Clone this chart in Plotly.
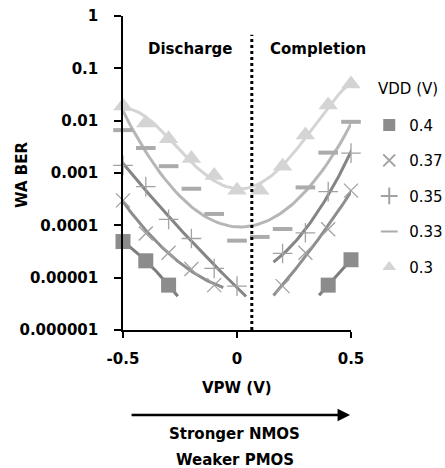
import numpy as np
import plotly.graph_objects as go

# Write-assist bit error rate vs. P-well bias, one series per supply voltage
vpw = [-0.5, -0.4, -0.3, -0.2, -0.1, 0.0, 0.1, 0.2, 0.3, 0.4, 0.5]

vpw_04 = [-0.5, -0.4, -0.3, 0.4, 0.5]
ber_04 = [4.9e-5, 2.1e-5, 7.2e-6, 7.2e-6, 2.2e-5]

vpw_037 = [-0.5, -0.4, -0.3, -0.2, -0.1, 0.2, 0.3, 0.4, 0.5]
ber_037 = [3.0e-4, 7.0e-5, 3.0e-5, 1.46e-5, 7.2e-6, 6.9e-6, 3.0e-5, 8.4e-5, 4.6e-4]

vpw_035 = [-0.5, -0.4, -0.3, -0.2, -0.1, 0.0, 0.2, 0.3, 0.4, 0.5]
ber_035 = [1.4e-3, 5.5e-4, 1.3e-4, 5.6e-5, 1.5e-5, 6.9e-6, 2.9e-5, 7.2e-5, 4.4e-4, 2.4e-3]

ber_033 = [6.6e-3, 3.0e-3, 1.35e-3, 5.0e-4, 1.65e-4, 5.1e-5, 6.0e-5, 8.5e-5, 5.3e-4, 2.45e-3, 9.5e-3]
ber_03 = [1.9e-2, 9.0e-3, 4.5e-3, 1.9e-3, 9.0e-4, 4.7e-4, 4.7e-4, 1.35e-3, 5.3e-3, 2.0e-2, 5.0e-2]

y_tickvals = [1e-6, 1e-5, 1e-4, 1e-3, 1e-2, 1e-1, 1]
y_ticktext = ["0.000001", "0.00001", "0.0001", "0.001", "0.01", "0.1", "1"]
x_tickvals = [-0.5, 0, 0.5]
x_ticktext = ["-0.5", "0", "0.5"]

boundary_vpw = 0.065

BOLD = "DejaVu Sans"


def trend(xs, ys, deg, ext=0.04, n=80):
    """Polynomial trendline fitted in log space over the given points."""
    xs = np.asarray(xs, float)
    ly = np.log10(np.asarray(ys, float))
    d = min(deg, len(xs) - 1)
    coef = np.polyfit(xs, ly, d)
    xx = np.linspace(xs.min() - ext, xs.max() + ext, n)
    return xx, 10 ** np.polyval(coef, xx)


def split(xs, ys, cut=boundary_vpw):
    left = [(x, y) for x, y in zip(xs, ys) if x < cut]
    right = [(x, y) for x, y in zip(xs, ys) if x > cut]
    return [list(zip(*left)), list(zip(*right))]


fig = go.Figure()

series = [
    dict(name="0.4", x=vpw_04, y=ber_04, symbol="square", size=15,
         color="#8c8c8c", line_w=0, curve="#7c7c7c", split=True, deg=2),
    dict(name="0.37", x=vpw_037, y=ber_037, symbol="x-thin", size=14,
         color="#a2a2a2", line_w=1.3, curve="#8e8e8e", split=True, deg=2),
    dict(name="0.35", x=vpw_035, y=ber_035, symbol="cross-thin", size=14,
         color="#a2a2a2", line_w=1.3, curve="#858585", split=True, deg=2),
    dict(name="0.33", x=vpw, y=ber_033, symbol="line-ew", size=14,
         color="#ababab", line_w=4, curve="#b6b6b6", split=False, deg=2),
    dict(name="0.3", x=vpw, y=ber_03, symbol="triangle-up", size=17,
         color="#d4d4d4", line_w=0, curve="#d4d4d4", split=False, deg=4),
]

# Trendlines
for s in series:
    parts = split(s["x"], s["y"]) if s["split"] else [[s["x"], s["y"]]]
    for px, py in parts:
        xx, yy = trend(px, py, s["deg"])
        fig.add_trace(go.Scatter(x=xx, y=yy, mode="lines",
                                 line=dict(color=s["curve"], width=3),
                                 showlegend=False, hoverinfo="skip"))

# Data markers
for i, s in enumerate(series):
    marker = dict(symbol=s["symbol"], size=s["size"], color=s["color"])
    if s["line_w"]:
        marker["line"] = dict(color=s["color"], width=s["line_w"])
    else:
        marker["line"] = dict(width=0)
    fig.add_trace(go.Scatter(x=s["x"], y=s["y"], mode="markers", name=s["name"],
                             marker=marker, legendgroup=f"g{i}", cliponaxis=False))

# Dotted boundary between discharge and completion regions
fig.add_shape(type="line", xref="x", yref="paper", x0=boundary_vpw, x1=boundary_vpw,
              y0=0, y1=0.94, line=dict(color="black", width=3, dash="dot"))

annots = [
    dict(text="Discharge", x=0.294, y=0.895),
    dict(text="Completion", x=0.855, y=0.895),
    dict(text="VPW (V)", x=0.5, y=-0.185),
    dict(text="Stronger NMOS", x=0.491, y=-0.331),
    dict(text="Weaker PMOS", x=0.491, y=-0.414),
]
for a in annots:
    fig.add_annotation(text=a["text"], x=a["x"], y=a["y"], xref="paper", yref="paper",
                       showarrow=False, xanchor="center", yanchor="middle",
                       font=dict(family=BOLD, size=15, color="black", weight="bold"))

fig.add_annotation(text="WA BER", x=-0.443, y=0.494, xref="paper", yref="paper",
                   showarrow=False, textangle=-90, xanchor="center", yanchor="middle",
                   font=dict(family=BOLD, size=15, color="black", weight="bold"))

# Legend heading
fig.add_annotation(text="VDD (V)", x=1.11, y=0.767, xref="paper", yref="paper",
                   showarrow=False, xanchor="left", yanchor="middle",
                   font=dict(family="DejaVu Sans", size=15, color="black"))

# Direction arrow under the x axis title
fig.add_annotation(x=0.996, y=-0.271, xref="paper", yref="paper", text="",
                   showarrow=True, ax=-220, ay=0, axref="pixel", ayref="pixel",
                   arrowhead=2, arrowsize=1, arrowwidth=2.5, arrowcolor="black")

fig.update_xaxes(range=[-0.5, 0.5], tickvals=x_tickvals, ticktext=x_ticktext,
                 showgrid=False, zeroline=False, showline=True, linecolor="black",
                 linewidth=1.5, ticks="outside", ticklen=6, tickwidth=1.5,
                 tickcolor="black", ticklabelstandoff=8,
                 tickfont=dict(family=BOLD, size=15, color="black", weight="bold"))
fig.update_yaxes(type="log", range=[-6, 0], tickvals=y_tickvals, ticktext=y_ticktext,
                 showgrid=False, zeroline=False, showline=True, linecolor="black",
                 linewidth=1.5, ticks="outside", ticklen=7, tickwidth=1.5,
                 tickcolor="black", ticklabelstandoff=13,
                 tickfont=dict(family=BOLD, size=15, color="black", weight="bold"))

fig.update_layout(
    width=445, height=468,
    margin=dict(l=123, r=94, t=16, b=138, autoexpand=False),
    plot_bgcolor="white", paper_bgcolor="white",
    showlegend=True,
    legend=dict(x=1.08, y=0.705, xanchor="left", yanchor="top",
                font=dict(family="DejaVu Sans", size=15, color="black"),
                itemsizing="constant", tracegroupgap=13, traceorder="grouped",
                bgcolor="rgba(0,0,0,0)"),
)

fig.write_html("out.html")
